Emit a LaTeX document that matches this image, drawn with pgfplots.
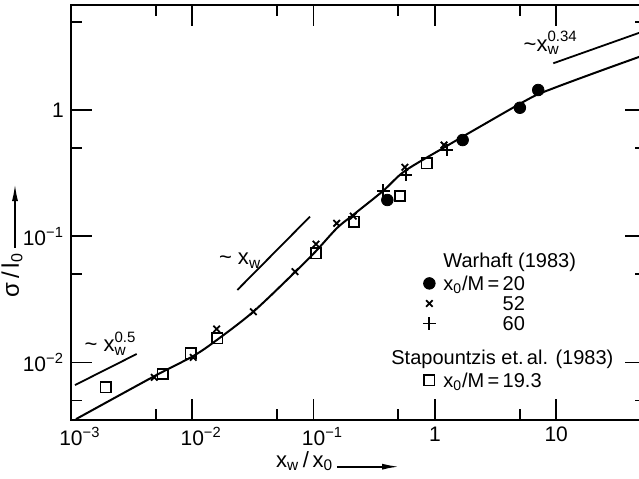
\documentclass[border=0pt]{standalone}
\usepackage{pgfplots}
\pgfplotsset{compat=1.18}
\usepackage{fontspec}
\setmainfont{Liberation Sans}
\usetikzlibrary{arrows.meta}
\newcommand{\sups}[1]{\raisebox{0.8ex}{\fontsize{7.5}{8}\selectfont #1}}

\begin{document}
\begin{tikzpicture}
\begin{axis}[
  xmode=log, ymode=log,
  scale only axis, width=287.5pt, height=207.5pt,
  xmin=1e-3, xmax=55, ymin=3.5e-3, ymax=6.79,
  axis line style={line width=1pt},
  tick align=inside,
  xtick pos=both, ytick pos=both,
  xticklabel pos=bottom, yticklabel pos=left,
  xtick={0.001,0.01,0.1,1,10},
  xticklabels={10\rlap{\textsuperscript{−3}},10\rlap{\textsuperscript{−2}},10\rlap{\textsuperscript{−1}},1,10},
  minor xtick={0.005,0.05,0.5,5},
  ytick={0.01,0.1,1},
  yticklabels={10\textsuperscript{−2},10\textsuperscript{−1},1\hspace{17pt}},
  minor ytick={0.005,0.05,0.5,5},
  major tick length=10.5pt, minor tick length=5.5pt,
  every tick/.style={black, line width=0.9pt},
  tick label style={font=\fontsize{10.5}{12}\selectfont},
  clip=false,
  legend image code/.code={\path[draw=none,fill=none] (-5pt,0pt) -- (5pt,0pt); \draw[#1] plot coordinates {(0pt,3.5pt)};},
  legend cell align=left,
  legend style={draw=none, fill=none, at={(axis description cs:0.6052,0.4072)}, anchor=north west,
    font=\fontsize{10}{12}\selectfont, row sep=0pt, inner sep=0pt,
    nodes={inner sep=0pt},
    cells={anchor=base west},
    /tikz/every odd column/.style={column sep=2pt}},
]
\coordinate (bl) at (rel axis cs:0,0);
\coordinate (tr) at (rel axis cs:1,1);

% fitted curve
\addplot[forget plot, black, line width=1pt, smooth] coordinates {
(1.099e-3,3.556e-3)
(4.775e-3,7.71e-3)
(1.019e-2,1.125e-2)
(1.589e-2,1.503e-2)
(3.184e-2,2.523e-2)
(0.0703,0.0520)
(0.1047,0.0763)
(0.156,0.1161)
(0.2113,0.1472)
(0.3733,0.2282)
(0.566,0.3289)
(1.211,0.509)
(2.355,0.7379)
(6.081,1.239)
(9.462,1.486)
(22.96,2.037)
(54.95,2.754)
};
% slope lines
\addplot[forget plot, black, line width=0.9pt] coordinates {(1.079e-3,6.62e-3) (3.48e-3,1.167e-2)};
\addplot[forget plot, black, line width=0.9pt] coordinates {(2.35e-2,0.0375) (0.0933,0.1429)};
\addplot[forget plot, black, line width=0.9pt] coordinates {(9.46,2.344) (55,4.27)};

\addlegendimage{empty legend}
\addlegendentry[text height=8pt, text depth=3pt]{Warhaft (1983)}

% Warhaft x0/M = 20
\addplot[only marks, mark=*, mark size=2.9pt, black] coordinates {
(0.4055,0.1936) (1.694,0.578) (5.02,1.042) (7.11,1.440)
};
\addlegendentry[text height=8.5pt, text depth=3pt]{x\textsubscript{0}/M\,=\,20}

% Warhaft x0/M = 52
\addplot[only marks, mark=x, mark size=2.3pt, black, line width=0.9pt] coordinates {
(4.86e-3,7.62e-3) (1.019e-2,1.096e-2) (1.589e-2,1.84e-2) (3.184e-2,2.523e-2)
(7.03e-2,5.236e-2) (0.1047,0.0867) (0.1549,0.1265) (0.2123,0.1445)
(0.566,0.3516) (1.189,0.528)
};
\addlegendentry[text height=7pt, text depth=3pt]{\phantom{x\textsubscript{0}/M\,=\,}52}

% Warhaft x0/M = 60
\addplot[only marks, mark=+, mark size=3.2pt, black, line width=0.9pt] coordinates {
(0.376,0.2296) (0.578,0.3055) (1.250,0.482)
};
\addlegendentry[text height=7pt, text depth=3pt]{\phantom{x\textsubscript{0}/M\,=\,}60}

\addlegendimage{empty legend}
\addlegendentry[text height=14pt, text depth=3pt]{\hspace*{-26pt}Stapountzis et.\,al. (1983)}

% Stapountzis x0/M = 19.3
\addplot[only marks, mark=square, mark size=2.6pt, black, line width=0.8pt] coordinates {
(1.932e-3,6.35e-3) (5.70e-3,8.09e-3) (9.70e-3,1.180e-2) (1.607e-2,1.552e-2)
(0.1047,0.0731) (0.2153,0.1303) (0.515,0.2084) (0.855,0.378)
};
\addlegendentry[text height=8.5pt, text depth=3pt]{x\textsubscript{0}/M\,=\,19.3}

% annotations
\node[anchor=base west, font=\fontsize{11}{13}\selectfont] at (axis description cs:0.0113,0.1639)
  {\textasciitilde\ x\rlap{\textsubscript{w}}\sups{0.5}};
\node[anchor=base west, font=\fontsize{11}{13}\selectfont] at (axis description cs:0.2452,0.3735)
  {\textasciitilde\ x\textsubscript{w}};
\node[anchor=base west, font=\fontsize{11}{13}\selectfont] at (axis description cs:0.775,0.889)
  {\textasciitilde x\rlap{\textsubscript{w}}\sups{0.34}};

% axis labels
\node[rotate=90, font=\fontsize{12}{14}\selectfont] at (axis description cs:-0.1026,0.349)
  {σ\,/\,l\textsubscript{0}};
\draw[line width=1pt, -{Latex[length=9pt,width=3pt]}] (axis description cs:-0.0974,0.4145) -- (axis description cs:-0.0974,0.571);
\node[anchor=base west, font=\fontsize{11}{13}\selectfont] at (axis description cs:0.3443,-0.1133)
  {x\textsubscript{w}\,/\,x\textsubscript{0}};
\draw[line width=1pt, -{Latex[length=9pt,width=3pt]}] (axis description cs:0.4626,-0.1125) -- (axis description cs:0.5722,-0.1125);
\end{axis}
\pgfresetboundingbox
\path[use as bounding box] ([xshift=-35.5pt,yshift=-29pt]bl) rectangle ([xshift=-3.5pt,yshift=2.5pt]tr);
\end{tikzpicture}
\end{document}
